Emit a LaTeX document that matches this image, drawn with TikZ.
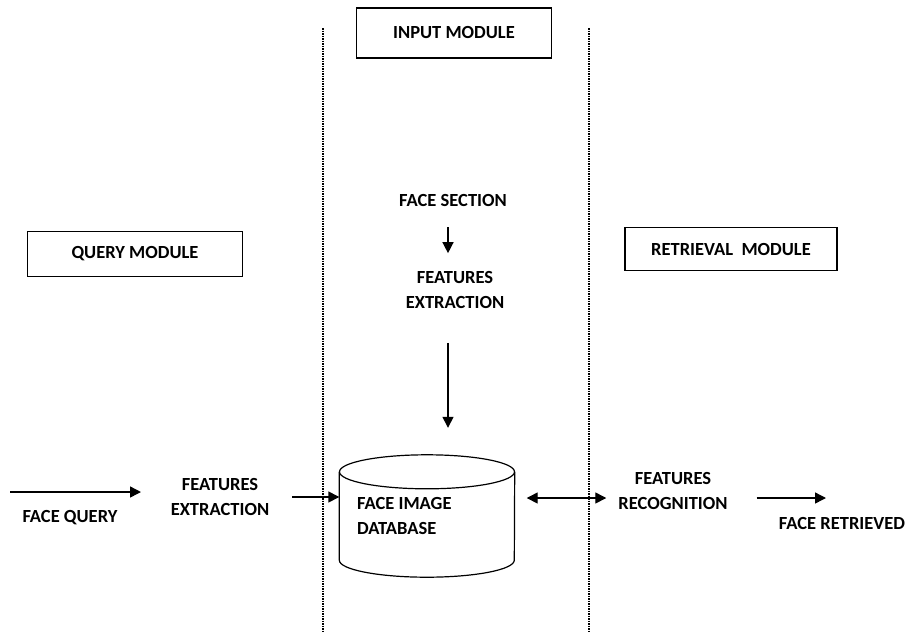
\documentclass[tikz,border=0pt]{standalone}
\usepackage{fontspec}
\setmainfont{Carlito}
\usetikzlibrary{arrows.meta, positioning}

\begin{document}
\begin{tikzpicture}[x=1pt, y=-1pt,
    lbl/.style={font=\fontsize{18.5}{25}\selectfont\bfseries, align=center, inner sep=0pt},
    modbox/.style={draw, line width=1.3pt, lbl},
    arr/.style={-{Triangle[length=11pt, width=11pt]}, line width=1.4pt},
    biarr/.style={{Triangle[length=11pt, width=11pt]}-{Triangle[length=11pt, width=11pt]}, line width=1.4pt},
    sep/.style={line width=1.2pt, dash pattern=on 1.5pt off 1pt}
]
\useasboundingbox (0,0) rectangle (907,632);

% module separators
\draw[sep] (323,28) -- (323,632);
\draw[sep] (589,28) -- (589,632);

% module titles
\node[modbox, minimum width=195pt, minimum height=50pt] (inmod) at (454,33) {INPUT MODULE};
\node[modbox, minimum width=215pt, minimum height=45pt] (qmod) at (135,254) {QUERY MODULE};
\node[modbox, minimum width=212pt, minimum height=43pt] (rmod) at (731,249) {RETRIEVAL~ MODULE};

% input module
\node[lbl] (fsec) at (453,200) {FACE SECTION};
\node[lbl] (ifeat) at (455,290) {FEATURES\\EXTRACTION};

% database cylinder
\node[minimum width=175pt, minimum height=88pt, inner sep=0pt] (db) at (427,516) {};
\coordinate (dbtop) at ([yshift=17pt]db.north);
\draw[line width=1.2pt] (db.north west) -- (db.south west)
    arc[start angle=180, end angle=360, x radius=87.5pt, y radius=17pt] -- (db.north east);
\draw[line width=1.2pt] (db.north) ellipse[x radius=87.5pt, y radius=17pt];
\node[lbl, align=left, anchor=west] (dbtxt) at (357,516) {FACE IMAGE\\DATABASE};

% query module
\coordinate (qin) at (10,492);
\coordinate (qend) at (141,492);
\node[lbl] (fquery) at (70,518) {FACE QUERY};
\node[lbl] (qfeat) at (220,497) {FEATURES\\EXTRACTION};

% retrieval module
\node[lbl] (frec) at (673,491) {FEATURES\\RECOGNITION};
\coordinate (rend) at (826,498);
\node[lbl] (fret) at (842,523) {FACE RETRIEVED};

% connectors
\draw[arr] (qin) -- (qend);
\draw[arr, shorten <=23pt] (qfeat.east) -- (qfeat.east -| db.west);
\draw[arr, shorten <=21pt, shorten >=18pt] ([xshift=-5pt]fsec.south) -- ([xshift=-5pt]fsec.south |- ifeat.north);
\draw[arr, shorten <=34pt, shorten >=27pt] ([xshift=-7pt]ifeat.south) -- ([xshift=-7pt]ifeat.south |- dbtop);
\draw[biarr, shorten <=12pt, shorten >=12pt] (db.east |- rend) -- (frec.west |- rend);
\draw[arr, shorten <=29pt] (frec.east |- rend) -- (rend);
\end{tikzpicture}
\end{document}
